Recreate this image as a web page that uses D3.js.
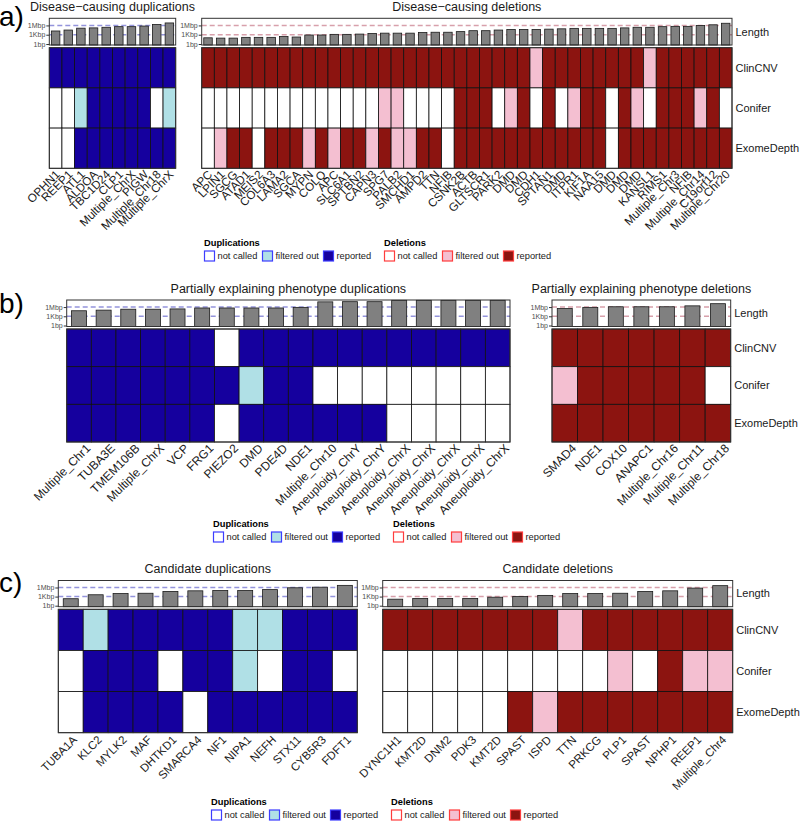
<!DOCTYPE html>
<html>
<head>
<meta charset="utf-8">
<script src="https://cdn.jsdelivr.net/npm/d3@7"></script>
<style>
  body { margin: 0; background: #fff; }
  svg { font-family: "Liberation Sans", Arial, sans-serif; }
</style>
</head>
<body>
<svg id="chart" width="800" height="821"></svg>
<script>
// call status codes: 0 = not called, 1 = filtered out, 2 = reported
const callers = ["ClinCNV", "Conifer", "ExomeDepth"];
const statusNames = ["not called", "filtered out", "reported"];
const lengthTicks = [1, 1e3, 1e6];
const lengthTickLabels = ["1bp", "1Kbp", "1Mbp"];

// a) disease-causing
const aDupGenes = ["OPHN1", "REEP1", "ATL1", "ALDOA", "TBC1D24", "CLP1", "Multiple_ChrX", "PIGW", "Multiple_Chr18", "Multiple_ChrX"];
const aDupLength = [16000, 32000, 130000, 160000, 250000, 400000, 400000, 630000, 2000000, 6300000];
const aDupClinCNV = [2, 2, 2, 2, 2, 2, 2, 2, 2, 2];
const aDupConifer = [0, 0, 1, 2, 2, 2, 2, 2, 0, 1];
const aDupExome = [0, 0, 2, 2, 2, 2, 2, 2, 2, 2];

const aDelGenes = ["APC", "LPIN1", "SGCG", "ATAD1", "MEIS2", "COL6A3", "LAMA2", "SGCA", "MYPN", "COLQ",
  "APC", "SLC6A1", "SPTBN2", "CAPN3", "SPG7", "PALB2", "SMCHD1", "AMPD2", "TTN", "NFIB",
  "CSNK2B", "ACTB", "GLTSCR1", "PARK2", "DMD", "DMD", "CDH1", "SPTAN1", "DMD", "ITPR1",
  "KIF1A", "NAA15", "DMD", "DMD", "DMD", "KANSL1", "RIMS1", "Multiple_Chr3", "NFIB", "Multiple_Chr14",
  "C19orf12", "Multiple_Chr20"];
const aDelLength = [100, 80, 80, 140, 140, 140, 250, 180, 800, 800,
  1300, 1300, 1600, 2500, 3200, 3200, 3200, 5000, 6300, 6300,
  10000, 20000, 20000, 32000, 50000, 50000, 50000, 63000, 80000, 112000,
  112000, 112000, 112000, 160000, 250000, 250000, 400000, 500000, 500000, 1000000,
  1600000, 5000000];
const aDelClinCNV = [2, 2, 2, 2, 2, 2, 2, 2, 2, 2, 2, 2, 2, 2, 2, 2, 2, 2, 2, 2,
  2, 2, 2, 2, 2, 2, 1, 2, 2, 2, 2, 2, 2, 2, 2, 1, 2, 2, 2, 2, 2, 2];
const aDelConifer = [0, 0, 0, 0, 0, 0, 0, 0, 0, 0, 0, 0, 0, 0, 1, 1, 0, 0, 0, 0,
  2, 2, 2, 0, 1, 2, 0, 2, 0, 1, 2, 2, 0, 2, 1, 0, 2, 2, 2, 1, 2, 0];
const aDelExome = [0, 1, 2, 2, 0, 2, 2, 2, 1, 2, 1, 2, 2, 1, 2, 1, 1, 2, 2, 0,
  2, 2, 2, 2, 2, 2, 2, 2, 2, 2, 2, 2, 0, 2, 2, 2, 2, 2, 2, 2, 2, 2];

// b) partially explaining phenotype
const bDupGenes = ["Multiple_Chr1", "TUBA3E", "TMEM106B", "Multiple_ChrX", "VCP", "FRG1", "PIEZO2", "DMD", "PDE4D", "NDE1",
  "Multiple_Chr10", "Aneuploidy_ChrY", "Aneuploidy_ChrY", "Aneuploidy_ChrX", "Aneuploidy_ChrX", "Aneuploidy_ChrX", "Aneuploidy_ChrX", "Aneuploidy_ChrX"];
const bDupLength = [63000, 100000, 200000, 200000, 250000, 500000, 500000, 500000, 500000, 800000,
  50000000, 57000000, 57000000, 156000000, 156000000, 156000000, 156000000, 156000000];
const bDupClinCNV = [2, 2, 2, 2, 2, 2, 0, 2, 2, 2, 2, 2, 2, 2, 2, 2, 2, 2];
const bDupConifer = [2, 2, 2, 2, 2, 2, 2, 1, 2, 2, 0, 0, 0, 0, 0, 0, 0, 0];
const bDupExome = [2, 2, 2, 2, 2, 2, 0, 2, 2, 2, 2, 2, 2, 0, 0, 0, 0, 0];

const bDelGenes = ["SMAD4", "NDE1", "COX10", "ANAPC1", "Multiple_Chr16", "Multiple_Chr11", "Multiple_Chr18"];
const bDelLength = [320000, 800000, 1260000, 1260000, 1260000, 2500000, 12600000];
const bDelClinCNV = [2, 2, 2, 2, 2, 2, 2];
const bDelConifer = [1, 2, 2, 2, 2, 2, 0];
const bDelExome = [2, 2, 2, 2, 2, 2, 2];

// c) candidates
const cDupGenes = ["TUBA1A", "KLC2", "MYLK2", "MAF", "DHTKD1", "SMARCA4", "NF1", "NIPA1", "NEFH", "STX11", "CYB5R3", "FDFT1"];
const cDupLength = [200, 4000, 10000, 12600, 50000, 80000, 100000, 100000, 200000, 800000, 1260000, 5000000];
const cDupClinCNV = [2, 1, 2, 2, 2, 2, 2, 1, 1, 2, 2, 2];
const cDupConifer = [0, 2, 2, 2, 0, 2, 2, 1, 0, 2, 2, 0];
const cDupExome = [0, 2, 2, 2, 2, 0, 2, 2, 2, 2, 2, 2];

const cDelGenes = ["DYNC1H1", "KMT2D", "DNM2", "PDK3", "KMT2D", "SPAST", "ISPD", "TTN", "PRKCG", "PLP1", "SPAST", "NPHP1", "REEP1", "Multiple_Chr4"];
const cDelLength = [140, 250, 250, 250, 630, 1000, 2500, 10000, 10000, 12600, 50000, 80000, 630000, 4000000];
const cDelClinCNV = [2, 2, 2, 2, 2, 2, 2, 1, 2, 2, 2, 2, 2, 2];
const cDelConifer = [0, 0, 0, 0, 0, 0, 0, 0, 0, 1, 0, 2, 1, 1];
const cDelExome = [0, 0, 0, 0, 0, 2, 1, 2, 2, 2, 2, 2, 2, 2];

// styling
const fills = {
  dup: ["#ffffff", "#b0e0e6", "#15009e"],
  del: ["#ffffff", "#f4bfd1", "#8c1410"]
};
const keyStroke = { dup: "#3d3dff", del: "#ff3d3d" };
const refLine = { dup: "#9494dc", del: "#d8a0ab" };

const svg = d3.select("#chart");

const rows = [
  { tag: "a)", tagY: 26, titleY: 11, lenTop: 18.3, lenBottom: 45, gridTop: 47.7, gridBottom: 168.3,
    labelSize: 11.7, labelDx: -1, labelDy: 1, legendX: 204, legendY: 242 },
  { tag: "b)", tagY: 313, titleY: 292.5, lenTop: 300, lenBottom: 326.5, gridTop: 329, gridBottom: 442,
    labelSize: 12, labelDx: 6, labelDy: 1, legendX: 213, legendY: 523 },
  { tag: "c)", tagY: 592, titleY: 573, lenTop: 580.5, lenBottom: 606.7, gridTop: 609.3, gridBottom: 732.7,
    labelSize: 11.5, labelDx: 1, labelDy: 2, legendX: 211, legendY: 801 }
];

const panels = [
  { row: 0, kind: "dup", title: "Disease\u2212causing duplications", x0: 49.3, x1: 175.7, barW: 8.5,
    genes: aDupGenes, len: aDupLength, calls: [aDupClinCNV, aDupConifer, aDupExome], rowLabels: false },
  { row: 0, kind: "del", title: "Disease\u2212causing deletions", x0: 201.7, x1: 732, barW: 8.5,
    genes: aDelGenes, len: aDelLength, calls: [aDelClinCNV, aDelConifer, aDelExome], rowLabels: true },
  { row: 1, kind: "dup", title: "Partially explaining phenotype duplications", x0: 66.7, x1: 510, barW: 15,
    genes: bDupGenes, len: bDupLength, calls: [bDupClinCNV, bDupConifer, bDupExome], rowLabels: false },
  { row: 1, kind: "del", title: "Partially explaining phenotype deletions", x0: 552, x1: 730.7, barW: 15,
    genes: bDelGenes, len: bDelLength, calls: [bDelClinCNV, bDelConifer, bDelExome], rowLabels: true },
  { row: 2, kind: "dup", title: "Candidate duplications", x0: 58.3, x1: 357.3, barW: 15,
    genes: cDupGenes, len: cDupLength, calls: [cDupClinCNV, cDupConifer, cDupExome], rowLabels: false },
  { row: 2, kind: "del", title: "Candidate deletions", x0: 382.7, x1: 732.7, barW: 15,
    genes: cDelGenes, len: cDelLength, calls: [cDelClinCNV, cDelConifer, cDelExome], rowLabels: true }
];

rows.forEach(r => {
  svg.append("text")
    .attr("x", -1).attr("y", r.tagY)
    .attr("font-size", 28).attr("fill", "#000")
    .text(r.tag);
  drawLegend(r.legendX, r.legendY);
});

panels.forEach(drawPanel);

function drawPanel(p) {
  const r = rows[p.row];
  const g = svg.append("g");
  const idx = p.genes.map((d, i) => i);

  const x = d3.scaleBand().domain(idx).range([p.x0, p.x1]).padding(0);
  const yLen = d3.scaleLog().domain([1, 2e8]).range([r.lenBottom - 1, r.lenTop]);
  const yRow = d3.scaleBand().domain(callers).range([r.gridTop, r.gridBottom]).padding(0);

  // title
  g.append("text")
    .attr("x", (p.x0 + p.x1) / 2).attr("y", r.titleY)
    .attr("text-anchor", "middle")
    .attr("font-size", 12.5).attr("fill", "#1a1a1a")
    .text(p.title);

  // length box
  g.append("rect")
    .attr("x", p.x0).attr("y", r.lenTop)
    .attr("width", p.x1 - p.x0).attr("height", r.lenBottom - r.lenTop)
    .attr("fill", "#fff");

  g.selectAll(".ref")
    .data(lengthTicks.slice(1))
    .join("line")
    .attr("x1", p.x0).attr("x2", p.x1)
    .attr("y1", d => yLen(d)).attr("y2", d => yLen(d))
    .attr("stroke", refLine[p.kind])
    .attr("stroke-width", 1.5)
    .attr("stroke-dasharray", "5,3");

  g.selectAll(".bar")
    .data(p.len)
    .join("rect")
    .attr("x", (d, i) => x(i) + x.bandwidth() / 2 - p.barW / 2)
    .attr("y", d => yLen(d))
    .attr("width", p.barW)
    .attr("height", d => r.lenBottom - yLen(d))
    .attr("fill", "#808080")
    .attr("stroke", "#1a1a1a")
    .attr("stroke-width", 0.8);

  g.append("rect")
    .attr("x", p.x0).attr("y", r.lenTop)
    .attr("width", p.x1 - p.x0).attr("height", r.lenBottom - r.lenTop)
    .attr("fill", "none").attr("stroke", "#333").attr("stroke-width", 1);

  const axis = g.append("g")
    .attr("transform", "translate(" + p.x0 + ",0)")
    .call(d3.axisLeft(yLen).tickValues(lengthTicks).tickSize(3).tickPadding(1)
      .tickFormat((d, i) => lengthTickLabels[i]));
  axis.select(".domain").remove();
  axis.selectAll(".tick line").attr("stroke", "#333");
  axis.selectAll(".tick text")
    .attr("font-size", 7).attr("fill", "#4d4d4d")
    .attr("font-family", "Liberation Sans, Arial, sans-serif");

  // call grid
  callers.forEach((c, ci) => {
    g.append("g").selectAll("rect")
      .data(p.calls[ci])
      .join("rect")
      .attr("x", (d, i) => x(i))
      .attr("y", yRow(c))
      .attr("width", x.bandwidth())
      .attr("height", yRow.bandwidth())
      .attr("fill", d => fills[p.kind][d])
      .attr("stroke", "#111")
      .attr("stroke-width", 0.8);
  });

  g.append("rect")
    .attr("x", p.x0).attr("y", r.gridTop)
    .attr("width", p.x1 - p.x0).attr("height", r.gridBottom - r.gridTop)
    .attr("fill", "none").attr("stroke", "#333").attr("stroke-width", 1);

  // gene labels
  g.append("g").selectAll("text")
    .data(p.genes)
    .join("text")
    .attr("transform", (d, i) => "translate(" + (x(i) + x.bandwidth() / 2 + r.labelDx) + "," + (r.gridBottom + r.labelDy) + ") rotate(-45)")
    .attr("text-anchor", "end")
    .attr("dy", "0.72em")
    .attr("font-size", r.labelSize).attr("fill", "#1a1a1a")
    .text(d => d);

  if (p.rowLabels) {
    const lab = [{ t: "Length", y: (r.lenTop + r.lenBottom) / 2 }]
      .concat(callers.map(c => ({ t: c, y: yRow(c) + yRow.bandwidth() / 2 })));
    g.append("g").selectAll("text")
      .data(lab)
      .join("text")
      .attr("x", p.x1 + 3.5).attr("y", d => d.y)
      .attr("dy", "0.35em")
      .attr("font-size", 11).attr("fill", "#1a1a1a")
      .text(d => d.t);
  }
}

function drawLegend(x0, yTitle) {
  const lg = svg.append("g").attr("class", "legend");
  const groups = [
    { kind: "dup", name: "Duplications", dx: 0 },
    { kind: "del", name: "Deletions", dx: 180 }
  ];
  const keyDx = [0, 58, 119];
  groups.forEach(gr => {
    lg.append("text")
      .attr("x", gr.dx + x0).attr("y", yTitle + 3.5)
      .attr("font-size", 9.3).attr("font-weight", "bold").attr("fill", "#000")
      .text(gr.name);
    statusNames.forEach((s, i) => {
      lg.append("rect")
        .attr("x", x0 + gr.dx + keyDx[i] + 0.5).attr("y", yTitle + 9)
        .attr("width", 10).attr("height", 10)
        .attr("fill", fills[gr.kind][i])
        .attr("stroke", keyStroke[gr.kind]).attr("stroke-width", 1.2);
      lg.append("text")
        .attr("x", x0 + gr.dx + keyDx[i] + 13.5).attr("y", yTitle + 14)
        .attr("dy", "0.35em")
        .attr("font-size", 9.3).attr("fill", "#1a1a1a")
        .text(s);
    });
  });
}
</script>
</body>
</html>
